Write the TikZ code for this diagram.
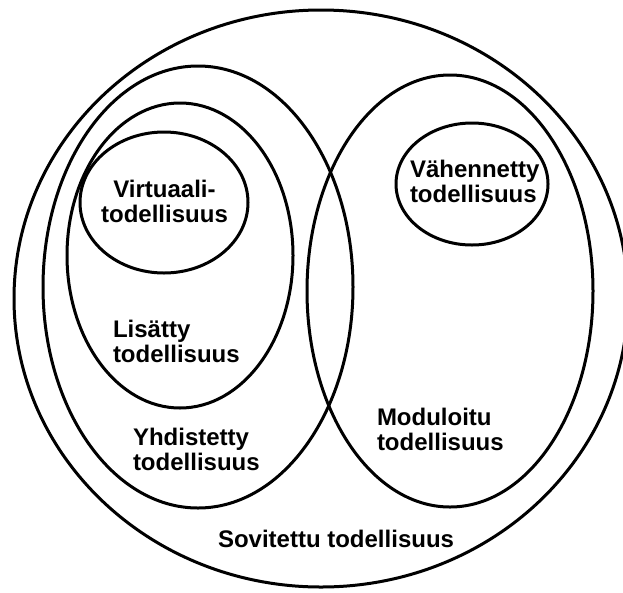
\documentclass[tikz,border=0pt]{standalone}
\usepackage{fontspec}
\setmainfont{Liberation Sans}
\usetikzlibrary{shapes.geometric}
\begin{document}
\begin{tikzpicture}[x=1pt,y=-1pt,
  setring/.style={draw=black, line width=3pt, ellipse, inner sep=0pt, outer sep=0pt},
  lbl/.style={inner sep=0pt, outer sep=0pt, align=left, font={\fontsize{24}{24.5}\selectfont\bfseries}}]
\useasboundingbox (0,0) rectangle (623,592);
% sets
\node[setring, minimum width=614pt, minimum height=577pt] (sov) at (321,298.5) {};
\node[setring, minimum width=310pt, minimum height=442pt] (yhd) at (198,287) {};
\node[setring, minimum width=226pt, minimum height=305pt] (lis) at (180,255.5) {};
\node[setring, minimum width=168pt, minimum height=141pt] (vir) at (164,202.5) {};
\node[setring, minimum width=286pt, minimum height=432pt] (mod) at (450,291) {};
\node[setring, minimum width=152pt, minimum height=122pt] (vah) at (472,184) {};
% labels (anchor base = baseline of last line)
\node[lbl, anchor=base, align=center] (tvir) at (164.5,222) {Virtuaali-\\todellisuus};
\node[lbl, anchor=base west] (tlis) at (113,362) {Lisätty\\todellisuus};
\node[lbl, anchor=base west] (tyhd) at (133,470) {Yhdistetty\\todellisuus};
\node[lbl, anchor=base west] (tvah) at (410,202) {Vähennetty\\todellisuus};
\node[lbl, anchor=base west] (tmod) at (377,450) {Moduloitu\\todellisuus};
\node[lbl, anchor=base west] (tsov) at (218,547) {Sovitettu todellisuus};
\end{tikzpicture}
\end{document}
